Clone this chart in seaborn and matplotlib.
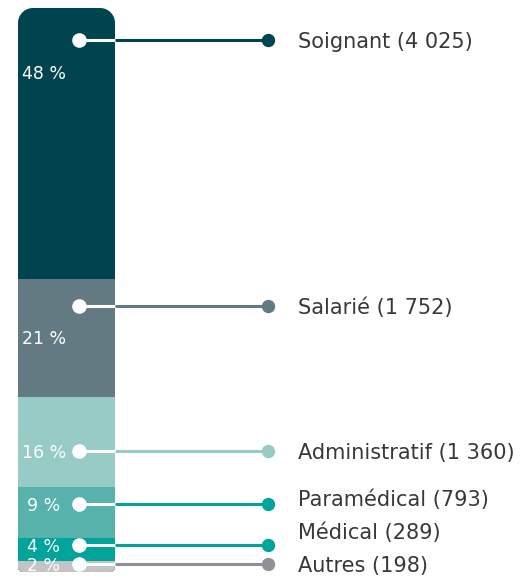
import numpy as np
import matplotlib
matplotlib.use("Agg")
import matplotlib.pyplot as plt
import seaborn as sns
import pandas as pd
from matplotlib.path import Path

# data
categories = ["Soignant", "Salarié", "Administratif", "Paramédical", "Médical", "Autres"]
counts = [4025, 1752, 1360, 793, 289, 198]
percents = [48, 21, 16, 9, 4, 2]
bar_colors = ["#00444f", "#637a83", "#97cbc6", "#56b2aa", "#00a49b", "#c4c4c6"]
line_colors = ["#00444f", "#637a83", "#97cbc6", "#00a49b", "#00a49b", "#909096"]

sns.set_style("white")
plt.rcParams["font.family"] = ["DejaVu Sans"]

df = pd.DataFrame({"cat": categories, "n": counts, "pct": percents})
df["top"] = df["pct"][::-1].cumsum()[::-1]
df["bottom"] = df["top"] - df["pct"]

fig = plt.figure(figsize=(5.25, 5.78), dpi=100)
ax = fig.add_axes([0, 6 / 578, 1, 564 / 578])

# stacked bar: cumulative totals drawn largest first
for i, row in df.iterrows():
    sns.barplot(x=["all"], y=[row["top"]], color=bar_colors[i], saturation=1,
                width=0.8, linewidth=0, ax=ax)

ax.set_xlim(-0.5485, 3.781)
ax.set_ylim(0, df["top"].max())
ax.axis("off")

# rounded outline of the whole bar (big radius top, small radius bottom)
x0, x1 = -0.4, 0.4
to_px = ax.transData
(px0, py0), (px1, py1) = to_px.transform([(x0, 0), (x1, df["top"].max())])
r_top, r_bot = 15, 5
verts = []
for cx, cy, r, a0, a1 in [(px1 - r_bot, py0 + r_bot, r_bot, 270, 360),
                          (px1 - r_top, py1 - r_top, r_top, 0, 90),
                          (px0 + r_top, py1 - r_top, r_top, 90, 180),
                          (px0 + r_bot, py0 + r_bot, r_bot, 180, 270)]:
    t = np.radians(np.linspace(a0, a1, 16))
    verts += list(zip(cx + r * np.cos(t), cy + r * np.sin(t)))
verts.append(verts[0])
clip = Path(to_px.inverted().transform(verts))
for p in ax.patches:
    p.set_clip_path(clip, ax.transData)

# anchor (fraction below the segment top) for the connector dots
anchor = [0.12, 0.23, 0.6, 0.32, 0.5, 0.5]
dot_y = [row["top"] - anchor[i] * row["pct"] for i, row in df.iterrows()]

# keep the small bottom dots apart (and clear of the bar's lower edge)
dot_y[-1] = max(dot_y[-1], 1.4)
for i in range(len(dot_y) - 2, -1, -1):
    dot_y[i] = max(dot_y[i], dot_y[i + 1] + 3.3)

# label positions, pushed apart from the bottom up
gap = 5.9
label_y = list(dot_y)
for i in range(len(label_y) - 2, -1, -1):
    label_y[i] = max(label_y[i], label_y[i + 1] + gap)

x_in, x_out, x_lab, x_pct = 0.103, 1.662, 1.909, -0.186
for i, row in df.iterrows():
    y = dot_y[i]
    ax.plot([x_in, x1], [y, y], color="white", lw=2.2, solid_capstyle="butt", zorder=5)
    ax.plot([x1, x_out], [y, y], color=line_colors[i], lw=2.2, solid_capstyle="butt", zorder=5)
    ax.plot(x_in, y, "o", ms=9.5, color="white", zorder=6)
    ax.plot(x_out, y, "o", ms=8.6, color=line_colors[i], zorder=6)
    ty = y - 5.5 if row["pct"] >= 20 else y
    ax.text(x_pct, ty, f"{row['pct']} %", color="white", fontsize=12.5,
            ha="center", va="center_baseline", zorder=7)
    label = f"{row['cat']} ({row['n']:,})".replace(",", " ")
    ax.text(x_lab, label_y[i], label, color="#383838", fontsize=15,
            ha="left", va="center_baseline")

fig.savefig("out.png", dpi=100)
